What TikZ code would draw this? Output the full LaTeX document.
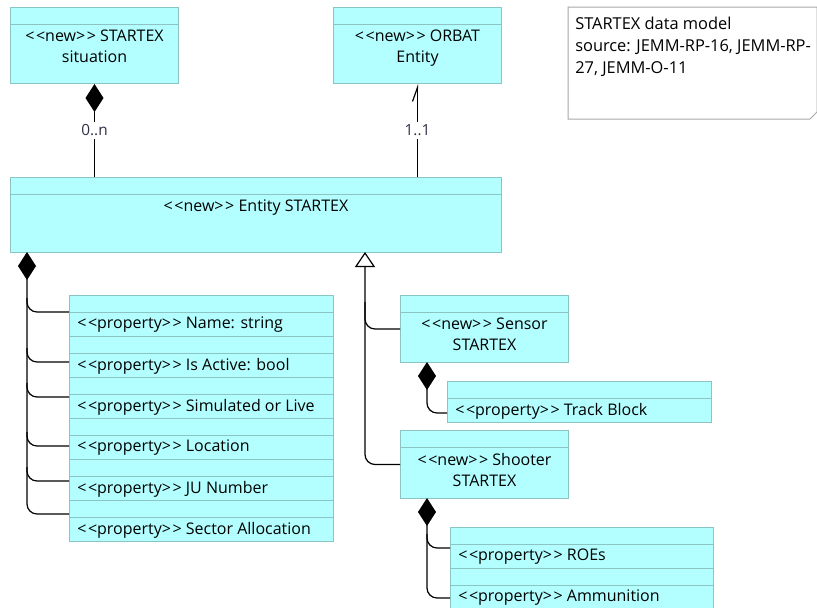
\documentclass[tikz,border=0pt]{standalone}
\usepackage{fontspec}
\setmainfont{Open Sans}
\usetikzlibrary{arrows.meta,calc}
\definecolor{boxfill}{HTML}{B3FFFF}
\definecolor{boxline}{HTML}{8CC4C4}
\definecolor{notegray}{HTML}{A8A8A8}
\definecolor{multcol}{HTML}{303048}
\newcommand{\st}[1]{<\kern1.2pt<#1>\kern1.2pt>}
\newcommand{\clsbox}[6]{\node[cls, minimum width=#4*0.75pt, minimum height=#5*0.75pt] (#1) at (#2,#3) {};
  \draw[boxline, line width=.75pt] ([yshift=-12.75pt]#1.north west) -- ([yshift=-12.75pt]#1.north east);
  \node[title] at ([yshift=-17pt]#1.north) {#6};}
\newcommand{\propbox}[5]{\node[cls, minimum width=#4*0.75pt, minimum height=41*0.75pt] (#1) at (#2,#3) {};
  \draw[boxline, line width=.75pt] ([yshift=-12.75pt]#1.north west) -- ([yshift=-12.75pt]#1.north east);
  \node[ptext] at ($(#1.south west)+(8,-12)$) {\st{property} #5};}

\begin{document}
\begin{tikzpicture}[x=0.75pt, y=-0.75pt,
		cls/.style={draw=boxline, fill=boxfill, line width=.75pt, inner sep=0pt, anchor=north west},
		title/.style={anchor=north, align=center, inner sep=0pt, font=\fontsize{12}{15.75}\selectfont},
		ptext/.style={anchor=west, inner sep=0pt, font=\fontsize{12}{15.75}\selectfont},
		mult/.style={fill=white, inner sep=2pt, text=multcol, font=\fontsize{11.5}{12}\selectfont},
		comp/.style={line width=.9pt, {Diamond[length=21pt, width=13.5pt]}-},
		gen/.style={line width=.9pt, -{Triangle[open, length=11.25pt, width=15pt]}},
		nav/.style={line width=.9pt, -{Straight Barb[harpoon, length=10.5pt, width=7.5pt]}},
		branch/.style={line width=.9pt, rounded corners=7.5pt}]
	\useasboundingbox (0,0) rectangle (817,607);
	
	\clsbox{sit}{10}{7}{168}{76}{\st{new} STARTEX\\situation}
	\clsbox{orbat}{333}{7}{168}{76}{\st{new} ORBAT\\Entity}
	\clsbox{ent}{10}{177}{491}{75}{\st{new} Entity STARTEX}
	\clsbox{sensor}{400}{295}{168}{67}{\st{new} Sensor\\STARTEX}
	\clsbox{shooter}{400}{430}{168}{68}{\st{new} Shooter\\STARTEX}
	
	% note
	\draw[notegray, fill=white, line width=.75pt] (568,7) -- (817,7) -- (817,112) -- (810,119) -- (568,119) -- cycle;
	\node[anchor=north west, align=left, inner sep=0pt, font=\fontsize{12.3}{16.5}\selectfont] (note) at (575,17)
		{STARTEX data model\\source: JEMM-RP-16, JEMM-RP-\\27, JEMM-O-11};
	
	% properties
	\propbox{name}{69}{295}{264}{Name: string}
	\propbox{active}{69}{336}{264}{Is Active: bool}
	\propbox{sim}{69}{377}{264}{Simulated or Live}
	\propbox{loc}{69}{418}{264}{Location}
	\propbox{ju}{69}{459}{264}{JU Number}
	\propbox{sector}{69}{500}{264}{Sector Allocation}
	\propbox{track}{447}{381}{264}{Track Block}
	\propbox{roe}{450}{527}{263}{ROEs}
	\propbox{ammo}{450}{568}{263}{Ammunition}
	
	% associations
	\draw[comp] (sit.south) -- node[mult]{0..n} (ent.north -| sit.south);
	\draw[nav] (ent.north -| orbat.south) -- node[mult]{1..1} (orbat.south);
	
	% generalization
	\coordinate (gentop) at (365,252);
	\draw[gen, rounded corners=7.5pt] (shooter.west) -| (gentop);
	\draw[branch] (sensor.west) -| ($(gentop)+(0,50)$);
	
	% compositions
	\coordinate (ctop) at (27,252);
	\draw[comp, rounded corners=7.5pt] (ctop) |- ($(sector.north west)+(0,14)$);
	\foreach \p/\d in {name/17, active/26, sim/20, loc/28, ju/22}
		\draw[branch] ($(\p.north west)+(-42,\d-14)$) |- ($(\p.north west)+(0,\d)$);
	
	\coordinate (stop) at (427,362);
	\draw[comp, rounded corners=7.5pt] (stop) |- ($(track.north west)+(0,32)$);
	\coordinate (htop) at (427,498);
	\draw[comp, rounded corners=7.5pt] (htop) |- ($(ammo.north west)+(0,30)$);
	\draw[branch] ($(roe.north west)+(-23,7)$) |- ($(roe.north west)+(0,21)$);
\end{tikzpicture}
\end{document}
